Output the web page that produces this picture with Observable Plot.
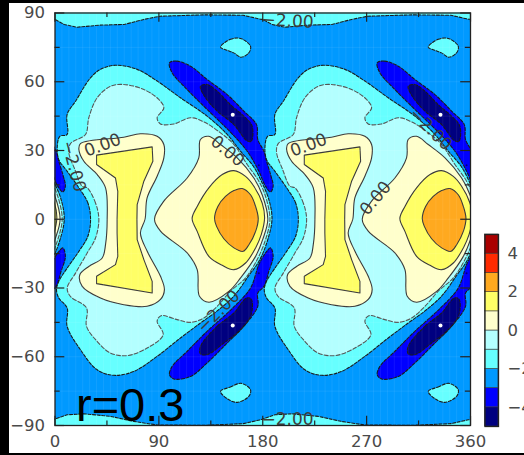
<!DOCTYPE html>
<html><head><meta charset="utf-8">
<script src="https://cdn.jsdelivr.net/npm/d3@7"></script>
<script src="https://cdn.jsdelivr.net/npm/@observablehq/plot@0.6"></script>
<style>
html,body{margin:0;padding:0;background:#000;width:524px;height:455px;overflow:hidden}
#paper{position:absolute;left:9px;top:3px;width:515px;height:450px;background:#fff}
#chart,#bar{position:absolute;top:0}
#chart{left:0}#bar{left:480px;top:0}
svg{display:block}
</style></head><body>
<div id="paper"></div><div id="chart"></div><div id="bar"></div>
<script>
// Field levels and colours
const levels = [-5,-4,-3,-2,-1,0,1,2,3,4,5];
const bandColors = ["#000080","#0000ff","#0099ff","#66ffff","#b3ffff","#ffffcc","#ffff66","#ffa91f","#ff2a00","#aa0000"];
const barTicks = [-4,-2,0,2,4];
const lonTicks = [0,90,180,270,360];
const lonMinor = [45,135,225,315];
const latTicks = [-90,-60,-30,0,30,60,90];
const latMinor = [-75,-45,-15,15,45,75];
const waveOffsets = [-180,0,180];   // the pattern repeats every 180° of longitude

// Iso-lines, one wave, as [lon, lat]
const isoM2 = [[30.8,0],[28.5,7.1],[20.7,13.7],[10.6,20.9],[3.3,26],[1.9,31.1],[4.2,36.2],[10.5,37],[10.5,45.7],[17.8,51.5],[30.7,61.7],[39.4,65.4],[52.4,67.2],[71.2,65.4],[88.5,60.3],[108.7,53],[131.8,45],[149.2,37],[160.7,29.7],[172,23],[179.5,15.8],[185.3,8.6],[188,0],[183.9,-9.6],[176.6,-18.4],[168,-24.5],[155,-33.5],[140.5,-40],[126,-45.3],[108.7,-51.8],[88.5,-59.8],[68.3,-66.4],[51,-68.1],[36.5,-65.7],[22,-56.9],[10.5,-46.7],[10.5,-38.7],[3.3,-34.4],[1.3,-30.7],[3.3,-27.1],[10.6,-21.3],[20.7,-14],[28.5,-7.4]];
const isoM1 = [[38,0],[35.1,7.1],[27.9,13.7],[23.6,14.4],[17,22],[12,29],[13.4,33],[26.4,37],[29.3,44.3],[36.5,53],[48.1,58],[59.6,58.8],[77,56.6],[89.9,52.3],[94.3,48.6],[88.5,44.3],[91.4,41.6],[103,41.6],[117.4,44.3],[128.9,42.5],[143.4,37.7],[155,32.6],[166.5,23.9],[176.6,16.6],[182.4,10],[186.2,0],[182.4,-8.9],[175.2,-17.6],[165.1,-25.6],[152,-31.4],[140.5,-38],[128.9,-43.1],[117.4,-45],[105.8,-43.8],[91.9,-42.1],[88.5,-44.5],[93.7,-50.4],[79.9,-56.2],[62.5,-59.5],[48.1,-58.4],[36.5,-53.3],[27.3,-46.7],[27.3,-38.7],[13.4,-33.7],[10.6,-30],[17.8,-23.5],[27.9,-14.7],[35.1,-8.2]];
const iso0West = [[45.2,0],[43.8,13.7],[36.6,19.5],[25,25.3],[20.7,30.4],[22,33],[59.6,35.8],[74,37.3],[88.5,36.2],[94.3,32.6],[94.3,26.8],[88.5,18.8],[79.8,9.3],[78,0],[74,-6],[79.9,-14],[91.4,-24.9],[94.8,-30.7],[91.4,-35],[79.8,-38],[59.6,-37.3],[39.4,-34.4],[23.6,-29.3],[21.5,-24.2],[29.3,-20.6],[40.9,-16.9],[43.8,-11]];
const iso0East = [[86.2,0],[94.3,7.9],[114.5,18],[124.6,26.8],[126,34.8],[133.3,36.2],[143.4,32.6],[157.9,26.8],[172.3,18],[179.5,10.7],[184.4,0],[180.4,-8.2],[173.8,-16.2],[160.8,-25.6],[150.6,-31.5],[133.3,-36.2],[125.2,-33.6],[123.2,-22],[114.5,-14.7],[91.4,-5.2]];
const iso1West = [[53.8,0],[54.4,12.2],[52.4,18],[36,23.9],[36,28],[84.2,31.6],[84.8,25.3],[77,16.6],[71.2,6.4],[71,0],[71.2,-8.9],[77,-17.6],[84.2,-27.1],[84.2,-32.2],[36,-28.1],[36,-24.9],[52.4,-19.8],[54.4,-16.2],[53.8,-6]];
const iso1East = [[155,21.2],[165.1,18.7],[172.3,14.4],[179.5,7.1],[181.6,0.6],[178.7,-6.7],[173.8,-12.5],[165.1,-19.1],[155,-22],[144.9,-20.1],[133.3,-16.2],[123.2,-5.3],[118.8,0.3],[123.2,5.6],[133.3,13.7],[144.9,19.5]];
const iso2 = [[162.2,13.4],[169.4,10.7],[173.8,5.6],[176.1,0.3],[173.8,-5.3],[168,-11.1],[163,-14],[155,-12.5],[146.3,-8.5],[140,-3.1],[138.2,0.3],[141.1,5.6],[147.7,10],[155,12.5]];
const isoM3North = [[99.2,68.3],[105.8,69],[117.4,66.8],[131.8,61],[149.2,54.4],[163.6,47.2],[174.6,41.3],[175.7,34.8],[181,29.7],[183.3,25.3],[186.8,19.5],[189,14.4],[186.8,11.9],[182.4,14.4],[176.6,21],[166.5,29.7],[152,38],[131.8,47.9],[114.5,56.6],[101.5,63.9]];
const isoM3South = [[189,-16.2],[185.3,-22.7],[181,-29.3],[175.7,-32.2],[175.7,-38],[163.6,-46.7],[149.2,-54],[131.8,-62.7],[117.4,-68.6],[103,-69.7],[99.2,-67.8],[101.5,-64.2],[114.5,-57.6],[131.8,-48.9],[154,-38.7],[169.4,-30],[176.6,-19.8],[182.4,-14.7],[186.8,-12.5]];
const isoM4North = [[126,58],[131.8,58.8],[140.5,55.9],[152,50],[163.6,45],[170.8,40.6],[170,34],[165.9,34.4],[155,41.3],[140.5,47.2],[129.5,53.7]];
const isoM4South = [[126,-55.5],[140.5,-46.7],[155,-40.9],[165.9,-34.4],[170,-34.8],[170,-41.6],[160.7,-48.2],[146.3,-54],[131.8,-59.1],[126,-58.7]];
const islandNorth = [[143.4,75.1],[152,78.5],[160.7,78.9],[169.4,75.5],[167.9,72.6],[161.3,70.7],[154.9,72.6],[149.2,73.7]];
const islandSouth = [[143.4,-75.1],[152,-73.2],[161.3,-71.6],[169.4,-74.4],[167.9,-77.3],[157.8,-79.9],[149.2,-78.3]];
const polarNorth = [[0,87.2],[8,85],[19,83.8],[39,84.7],[60,85],[77,87.2],[91,88.6],[130,89.2],[163,89],[178,87.3]];
const polarSouth = [[0,-87.2],[10.5,-85.3],[25,-84.9],[48,-86],[68,-88.2],[88.5,-89.8],[130,-89.9],[163,-89.2],[178,-87.5]];
const minima = [[154,45.6],[154,-46.4],[334,45.6],[334,-46.4]];
const specks = [[176.6,23.6],[176.6,-23.6],[356.6,23.6],[356.6,-23.6]];
const contourLabels = [
  {text:"0.00", lon:41.2, lat:32.3, rotate:-20},
  {text:"\u22122.00", lon:16, lat:23.1, rotate:75},
  {text:"0.00", lon:149.5, lat:29.7, rotate:40},
  {text:"\u22122.00", lon:141.7, lat:-40.2, rotate:-45},
  {text:"\u22122.00", lon:201.5, lat:86.5, rotate:3},
  {text:"\u22122.00", lon:201.5, lat:-87.3, rotate:0},
  {text:"0.00", lon:219.7, lat:32.3, rotate:-20},
  {text:"0.00", lon:277.7, lat:9.2, rotate:-50},
  {text:"\u22122.00", lon:325.4, lat:39.3, rotate:45}
];
const panelLabel = {text:"r=0.3", lon:18.2, lat:-88};

const FONT = "'DejaVu Sans'";
const TXT = "#4a4a4a";
const copies = pts => waveOffsets.flatMap((o,i)=>pts.map(([x,y])=>({x:x+o,y,wave:i})));
const dashOf = lv => lv < 0 ? (lv===-1 ? "4,2" : "3,1.6") : null;
const strokeOf = lv => lv===-1 ? "#555" : lv<0 ? "#1a1a1a" : "#3a3a3a";
const colorAbove = lv => bandColors[levels.indexOf(lv)];
const blob = (pts,lv,curve="catmull-rom-closed") => Plot.line(copies(pts),{x:"x",y:"y",z:"wave",curve,clip:true,
  fill:colorAbove(lv),stroke:strokeOf(lv),strokeWidth:1.1,strokeDasharray:dashOf(lv)});
const hole = (pts,lv) => Plot.line(copies(pts),{x:"x",y:"y",z:"wave",curve:"catmull-rom-closed",clip:true,
  fill:colorAbove(lv-1),stroke:strokeOf(lv),strokeWidth:1.1,strokeDasharray:dashOf(lv)});
const polar = (pts,cap) => {
  const row = waveOffsets.flatMap(o=>pts.map(([x,y])=>({x:x+o,y})));
  row.push({x:560,y:pts[0][1]},{x:560,y:cap},{x:-200,y:cap},{x:-200,y:pts[0][1]});
  return Plot.line(row,{x:"x",y:"y",curve:"linear",clip:true,fill:"#66ffff",stroke:"#1a1a1a",strokeWidth:1.1,strokeDasharray:"3,1.6"});
};
const axisStyle = {fontFamily:FONT,fontSize:16.5,fill:TXT,color:TXT};
const TICK = "#222";
const sideTicks = (lats,len) => [
  Plot.ruleY(lats,{x1:0,x2:len,stroke:TICK,strokeWidth:1.2}),
  Plot.ruleY(lats,{x1:360-len,x2:360,stroke:TICK,strokeWidth:1.2})];
const capTicks = (lons,len) => [
  Plot.ruleX(lons,{y1:-90,y2:-90+len,stroke:TICK,strokeWidth:1.2}),
  Plot.ruleX(lons,{y1:90-len,y2:90,stroke:TICK,strokeWidth:1.2})];

const chart = Plot.plot({
  width:524,height:455,marginLeft:54.5,marginRight:54,marginTop:12.5,marginBottom:30,
  style:{background:"transparent",fontFamily:FONT},
  x:{domain:[0,360]},y:{domain:[-90,90]},
  marks:[
    Plot.frame({fill:"#0099ff",stroke:"none"}),
    polar(polarNorth,100),polar(polarSouth,-100),
    blob(islandNorth,-2),blob(islandSouth,-2),
    blob(isoM2,-2),blob(isoM1,-1),
    blob(iso0West,0),blob(iso0East,0),
    blob(iso1West,1,"linear-closed"),blob(iso1East,1),blob(iso2,2),
    hole(isoM3North,-3),hole(isoM3South,-3),hole(isoM4North,-4),hole(isoM4South,-4),
    Plot.dot(minima,{x:d=>d[0],y:d=>d[1],r:2,fill:"#fff",stroke:"none",clip:true}),
    Plot.dot(specks,{x:d=>d[0],y:d=>d[1],r:1,fill:"#000080",stroke:"none",clip:true}),
    Plot.ruleX(d3.range(6,360,6),{stroke:"#fff",strokeOpacity:0.07}),
    Plot.ruleY(latMinor.concat(latTicks),{stroke:"#fff",strokeOpacity:0.07}),
    Plot.text(contourLabels,{x:"lon",y:"lat",text:"text",rotate:"rotate",fontSize:17,fontFamily:FONT,fill:"#3c3c3c"}),
    Plot.text([panelLabel],{x:"lon",y:"lat",text:"text",textAnchor:"start",lineAnchor:"bottom",fontSize:47,fontFamily:"'Liberation Sans'",fill:"#000"}),
    Plot.axisX({anchor:"bottom",ticks:lonTicks,tickSize:0,tickPadding:10,label:null,tickFormat:d=>String(d),...axisStyle}),
    Plot.axisY({anchor:"left",ticks:latTicks,tickSize:0,tickPadding:10,label:null,...axisStyle}),
    ...capTicks(lonTicks,4),...capTicks(lonMinor,2),
    ...sideTicks(latTicks,8.5),...sideTicks(latMinor,4.5),
    Plot.frame({stroke:"#222",strokeWidth:1.3})
  ]
});
document.getElementById("chart").append(chart);

const cells = bandColors.map((c,i)=>({lo:levels[i],hi:levels[i+1],c}));
const bar = Plot.plot({
  width:44,height:455,marginLeft:4.5,marginRight:26,marginTop:234,marginBottom:29,
  style:{background:"transparent",fontFamily:FONT},
  x:{axis:null,domain:[0,1]},y:{domain:[-5,5]},
  marks:[
    Plot.rectY(cells,{x1:0,x2:1,y1:"lo",y2:"hi",fill:"c",stroke:"#333",strokeWidth:0.8,strokeOpacity:0.7}),
    Plot.axisY({anchor:"right",ticks:barTicks,tickSize:0,tickPadding:9,label:null,...axisStyle}),
    Plot.frame({stroke:"#222",strokeWidth:1.3})
  ]
});
document.getElementById("bar").append(bar);
</script>
</body></html>
